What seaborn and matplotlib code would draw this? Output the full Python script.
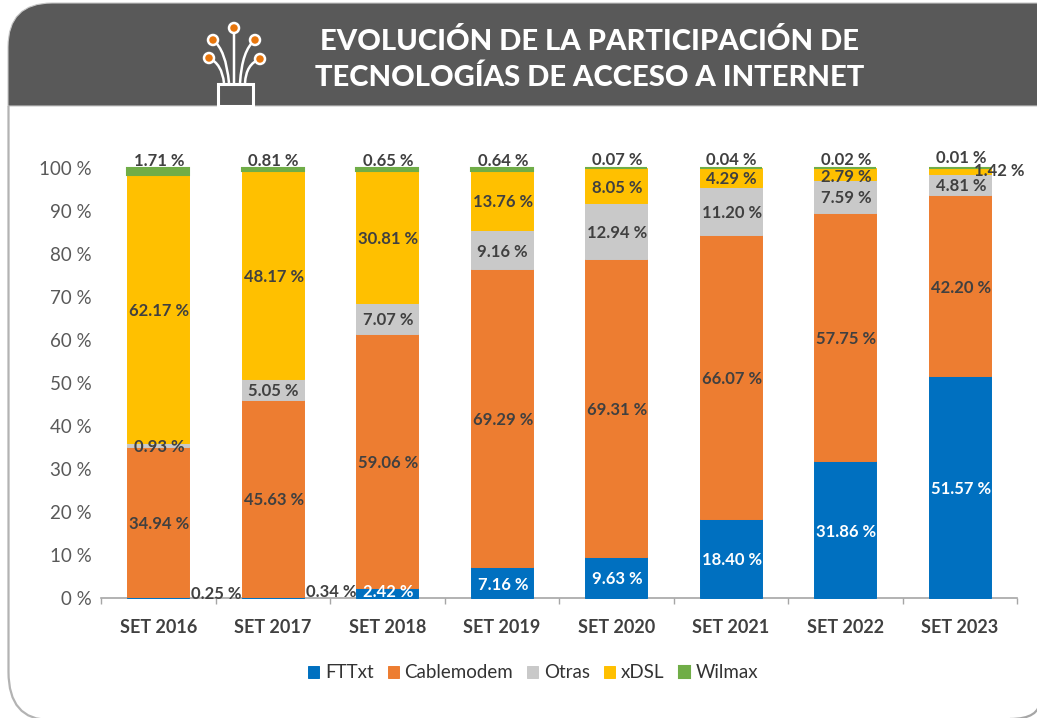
import numpy as np
import pandas as pd
import seaborn as sns
import matplotlib.pyplot as plt
from matplotlib.patches import PathPatch, Rectangle, Circle
from matplotlib.path import Path

# datos
periodos = ['SET 2016', 'SET 2017', 'SET 2018', 'SET 2019',
            'SET 2020', 'SET 2021', 'SET 2022', 'SET 2023']
fttxt = [0.25, 0.34, 2.42, 7.16, 9.63, 18.40, 31.86, 51.57]
cablemodem = [34.94, 45.63, 59.06, 69.29, 69.31, 66.07, 57.75, 42.20]
otras = [0.93, 5.05, 7.07, 9.16, 12.94, 11.20, 7.59, 4.81]
xdsl = [62.17, 48.17, 30.81, 13.76, 8.05, 4.29, 2.79, 1.42]
wilmax = [1.71, 0.81, 0.65, 0.64, 0.07, 0.04, 0.02, 0.01]

tecnologias = ['FTTxt', 'Cablemodem', 'Otras', 'xDSL', 'Wilmax']
series = [fttxt, cablemodem, otras, xdsl, wilmax]
colores = ['#0070C0', '#ED7D31', '#C9C9C9', '#FFC000', '#70AD47']

W, H = 1037, 718
GRIS_TEXTO = '#404040'

sns.set_theme(style='white')
plt.rcParams['font.family'] = ['Lato', 'DejaVu Sans']

fig = plt.figure(figsize=(W / 100, H / 100), dpi=100)

# --- marco y cabecera, en pixeles ---
fondo = fig.add_axes([0, 0, 1, 1], zorder=0)
fondo.set_xlim(0, W)
fondo.set_ylim(H, 0)
fondo.axis('off')

izq, arr, r = 8, 3, 44
cabecera = Path(
    [(izq, 106), (izq, arr + r), (izq, arr), (izq + r, arr), (W + 5, arr), (W + 5, 106), (izq, 106)],
    [Path.MOVETO, Path.LINETO, Path.CURVE3, Path.CURVE3, Path.LINETO, Path.LINETO, Path.CLOSEPOLY])
fondo.add_patch(PathPatch(cabecera, fc='#595959', ec='#C8C8C8', lw=0.8))

# el borde inferior del marco cae fuera de la imagen, solo se ven las esquinas
marco = Path([(izq + 0.5, 106), (izq + 0.5, 672), (izq + 0.5, 720), (50, 720)],
             [Path.MOVETO, Path.LINETO, Path.CURVE3, Path.CURVE3])
fondo.add_patch(PathPatch(marco, fc='none', ec='#B3B3B3', lw=1.6))
esquina = Path([(1040, 700), (1040, 719), (1010, 719)],
               [Path.MOVETO, Path.CURVE3, Path.CURVE3])
fondo.add_patch(PathPatch(esquina, fc='none', ec='#A6A6A6', lw=1.6))

fondo.text(590, 41, 'EVOLUCIÓN DE LA PARTICIPACIÓN DE', color='white', fontsize=21,
           fontweight=900, ha='center', va='center')
fondo.text(590, 78, 'TECNOLOGÍAS DE ACCESO A INTERNET', color='white', fontsize=21,
           fontweight=900, ha='center', va='center')

# icono de fibra optica
fondo.add_patch(Rectangle((217.5, 84), 35, 22, fc='none', ec='white', lw=2.2))
puntas = [(209, 58), (213, 40), (234, 28), (255, 40), (260, 59)]
bases = [(224, 83), (229, 83), (234, 83), (240, 83), (245, 83)]
controles = [(222, 64), (226, 50), (234, 55), (242, 50), (246, 64)]
for p, b, c in zip(puntas, bases, controles):
    curva = Path([p, c, b], [Path.MOVETO, Path.CURVE3, Path.CURVE3])
    fondo.add_patch(PathPatch(curva, fc='none', ec='white', lw=1.8))
    fondo.add_patch(Circle(p, 5, fc='#E8760C', ec='white', lw=1.8, zorder=3))

# --- barras apiladas ---
ax = fig.add_axes([101 / W, 1 - 598 / H, (1017 - 101) / W, (598 - 168) / H], zorder=1)
ax.patch.set_alpha(0)

base = np.zeros(len(periodos))
for nombre, valores, color in zip(tecnologias, series, colores):
    # Wilmax casi no tiene altura: el borde mas grueso lo deja ver
    grosor = 1.5 if nombre == 'Wilmax' else 0.7
    sns.barplot(x=periodos, y=valores, bottom=base, color=color, saturation=1,
                width=0.54, label=nombre, legend=False, ax=ax, clip_on=False,
                edgecolor=color, linewidth=grosor)
    base = base + np.array(valores)

ax.set_xlim(-0.5, 7.5)
ax.set_ylim(0, 100)
ax.set_yticks(range(0, 101, 10))
ax.set_yticklabels([f'{v} %' for v in range(0, 101, 10)], fontsize=13.5,
                   color='#595959')
ax.tick_params(axis='y', length=0, pad=7)
ax.tick_params(axis='x', which='major', length=0, pad=15, labelsize=13, labelcolor=GRIS_TEXTO)
for t in ax.get_xticklabels():
    t.set_fontweight('bold')
ax.set_xticks(np.arange(-0.5, 8, 1), minor=True)
ax.tick_params(axis='x', which='minor', length=4, width=1, color='#A6A6A6', bottom=True)
for lado in ['top', 'right', 'left']:
    ax.spines[lado].set_visible(False)
ax.spines['bottom'].set_color('#A6A6A6')
ax.spines['bottom'].set_linewidth(1.2)
ax.spines['bottom'].set_zorder(0.5)

# ajustes a mano de etiquetas que no caben (serie, periodo): dx, dy en pixeles
ajustes = {
    (0, 0): (58, 3), (0, 1): (58, 5), (0, 2): (1, 1),
    (3, 7): (39, 0), (3, 6): (1, -3),
    (4, 0): (1, 7), (4, 1): (1, 7), (4, 2): (1, 7), (4, 3): (1, 7),
    (4, 4): (1, 8), (4, 5): (1, 8), (4, 6): (1, 8), (4, 7): (1, 10),
}
for k, valores in enumerate(series):
    abajo = np.sum(series[:k], axis=0) if k else np.zeros(len(periodos))
    for i, v in enumerate(valores):
        # Wilmax va sobre la barra
        y = 100 if k == 4 else abajo[i] + v / 2
        dx, dy = ajustes.get((k, i), (1, -2))
        color = 'white' if k == 0 and i >= 2 else GRIS_TEXTO
        ax.annotate(f'{v:.2f} %', (i, y), xytext=(dx, dy), textcoords='offset pixels',
                    ha='center', va='center', fontsize=12, fontweight='bold',
                    color=color, annotation_clip=False, zorder=5)

# leyenda
manijas, textos = ax.get_legend_handles_labels()
fig.legend(manijas, textos, loc='center', bbox_to_anchor=(533 / W, 1 - 673 / H), ncol=5,
           frameon=False, fontsize=13.5, labelcolor='#333333', handlelength=0.6,
           handleheight=0.6, handletextpad=0.3, columnspacing=0.75)

fig.savefig('out.png', dpi=100)
